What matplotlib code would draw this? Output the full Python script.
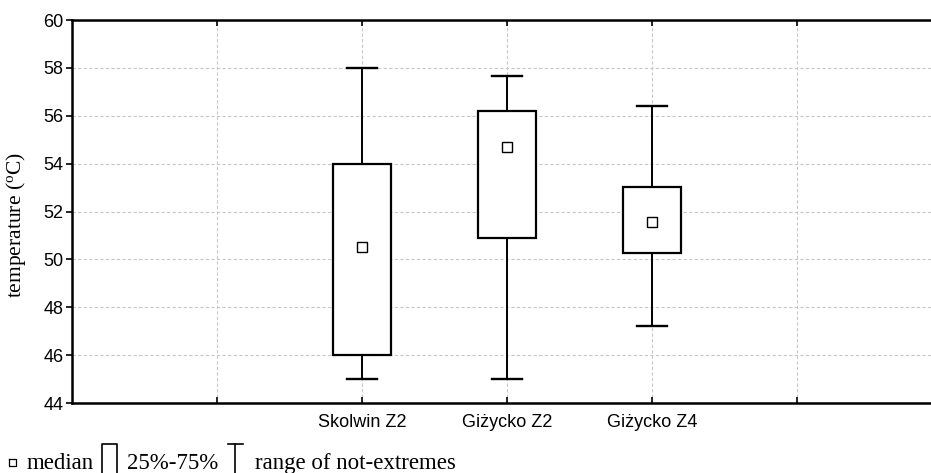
import matplotlib.pyplot as plt
from matplotlib.lines import Line2D

# data
sites = ["Skolwin Z2", "Giżycko Z2", "Giżycko Z4"]
positions = [2, 3, 4]
medians = [50.5, 54.68, 51.58]
q1 = [46.0, 50.88, 50.25]
q3 = [54.0, 56.2, 53.04]
whisk_lo = [45.0, 45.0, 47.2]
whisk_hi = [58.0, 57.66, 56.39]
grid_x = [1, 2, 3, 4, 5]
y_ticks = [44, 46, 48, 50, 52, 54, 56, 58, 60]

fig = plt.figure(figsize=(9.31, 4.73), dpi=100)
ax = fig.add_axes([72 / 931, 70 / 473, 1 - 72 / 931, 383 / 473])

stats = []
for i in range(len(sites)):
    stats.append({"med": medians[i], "q1": q1[i], "q3": q3[i],
                  "whislo": whisk_lo[i], "whishi": whisk_hi[i], "fliers": []})

ax.bxp(stats, positions=positions, widths=0.4, capwidths=0.21,
       showfliers=False, patch_artist=True,
       boxprops=dict(facecolor="white", edgecolor="black", linewidth=1.6),
       whiskerprops=dict(color="black", linewidth=1.4),
       capprops=dict(color="black", linewidth=1.7),
       medianprops=dict(linewidth=0))
ax.plot(positions, medians, linestyle="none", marker="s", markersize=7,
        markerfacecolor="white", markeredgecolor="black", markeredgewidth=1.0, zorder=5)

ax.set_xlim(0, (931 - 72) / 145)
ax.set_ylim(44, 60)
ax.set_yticks(y_ticks)
ax.set_xticks(grid_x)
ax.set_xticklabels(["", sites[0], sites[1], sites[2], ""])

ax.grid(True, color="#c8c8c8", linestyle=(0, (3, 2)), linewidth=0.8)
ax.set_axisbelow(True)

for s in ["left", "top", "bottom"]:
    ax.spines[s].set_linewidth(1.8)
ax.spines["right"].set_visible(False)

ax.tick_params(axis="y", direction="out", length=4, width=1.2, labelsize=13,
               pad=2)
ax.tick_params(axis="x", direction="in", length=4, width=1.2, labelsize=13,
               pad=8, top=True)
for lab in ax.get_xticklabels() + ax.get_yticklabels():
    lab.set_family("Liberation Sans")

ax.set_ylabel("temperature ($\\mathregular{^o}$C)", family="Liberation Serif",
              fontsize=15.5, va="center")
ax.yaxis.set_label_coords(-0.065, 0.465)

# legend along the bottom
legend_font = dict(family="Liberation Serif", fontsize=16.5, va="baseline")
py = lambda y: 1 - y / 473
px = lambda x: x / 931
fig.add_artist(Line2D([px(9), px(16), px(16), px(9), px(9)],
                      [py(459), py(459), py(466), py(466), py(459)],
                      color="black", linewidth=0.9))
fig.text(px(27), py(469), "median", **legend_font)
fig.add_artist(Line2D([px(102), px(102), px(117), px(117)],
                      [py(473), py(444), py(444), py(473)],
                      color="black", linewidth=1.2))
fig.text(px(127), py(469), "25%-75%", **legend_font)
fig.add_artist(Line2D([px(228), px(243)], [py(444), py(444)],
                      color="black", linewidth=1.2))
fig.add_artist(Line2D([px(235.5), px(235.5)], [py(444), py(473)],
                      color="black", linewidth=1.2))
fig.text(px(255), py(469), "range of not-extremes", **legend_font)

fig.savefig("out.png", dpi=100)
